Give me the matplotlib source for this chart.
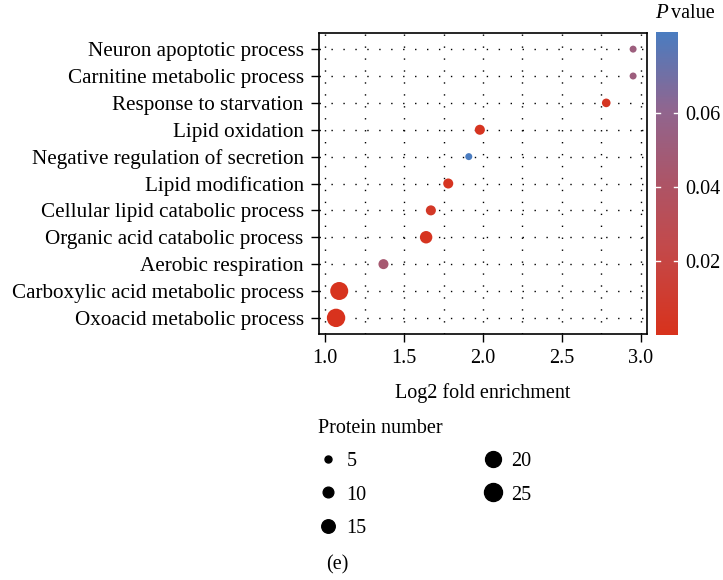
import numpy as np
import matplotlib
matplotlib.use("Agg")
import matplotlib.pyplot as plt
from matplotlib.colors import LinearSegmentedColormap, Normalize
from matplotlib.lines import Line2D

plt.rcParams['font.family'] = ['Liberation Serif', 'DejaVu Serif']

# GO terms, top to bottom
terms = ['Neuron apoptotic process', 'Carnitine metabolic process',
         'Response to starvation', 'Lipid oxidation',
         'Negative regulation of secretion', 'Lipid modification',
         'Cellular lipid catabolic process', 'Organic acid catabolic process',
         'Aerobic respiration', 'Carboxylic acid metabolic process',
         'Oxoacid metabolic process']
enrichment = [2.95, 2.95, 2.78, 1.98, 1.91, 1.78, 1.67, 1.64, 1.37, 1.09, 1.07]
pvalue = [0.052, 0.052, 0.003, 0.002, 0.082, 0.002, 0.006, 0.002, 0.046, 0.001, 0.0005]
count = [5, 5, 7, 9, 5, 9, 9, 13, 9, 25, 26]

legend_counts = [5, 10, 15, 20, 25]

FS = 14.5


def marker_diam(n):
    # diameter in points, area-like scaling
    return (-1.9 + 3.98 * np.sqrt(n)) * 0.72


cmap = LinearSegmentedColormap.from_list(
    'pval', [(0.0, '#D8321C'), (0.3, '#C24A4C'), (0.5, '#AD5466'),
             (0.75, '#8F6690'), (1.0, '#4A7CC0')])
norm = Normalize(vmin=0.0, vmax=0.082)

fig = plt.figure(figsize=(7.23, 5.8), dpi=100)
ax = fig.add_axes([319 / 723, 1 - 334 / 580, (647 - 319) / 723, (334 - 33) / 580])

ypos = np.arange(len(terms))[::-1]
dot = (0, (1, 7.6))
for x in np.arange(1.0, 3.01, 0.25):
    ax.axvline(x, color='black', lw=1.0, ls=dot, zorder=0)
for y in ypos:
    ax.axhline(y, color='black', lw=1.0, ls=dot, zorder=0)

ax.scatter(enrichment, ypos, s=[marker_diam(c) ** 2 for c in count],
           c=pvalue, cmap=cmap, norm=norm, edgecolors='none', zorder=3)

ax.set_xlim(0.962, 3.038)
ax.set_ylim(-0.6, len(terms) - 0.4)
ax.set_yticks(ypos)
ax.set_yticklabels(terms, fontsize=15.2)
ax.set_xticks([1.0, 1.5, 2.0, 2.5, 3.0])
ax.set_xticklabels(['1.0', '1.5', '2.0', '2.5', '3.0'], fontsize=FS)
ax.tick_params(direction='out', length=6, width=1, color='black')
ax.tick_params(axis='y', pad=5)
ax.tick_params(axis='x', pad=5)
for sp in ax.spines.values():
    sp.set_linewidth(1.2)
ax.set_xlabel('Log2 fold enrichment', fontsize=FS, labelpad=11)

# colour bar
cax = fig.add_axes([656 / 723, 1 - 335 / 580, 22 / 723, (335 - 32) / 580])
cb = fig.colorbar(plt.cm.ScalarMappable(norm=norm, cmap=cmap), cax=cax)
cb.outline.set_visible(False)
cb.set_ticks([0.02, 0.04, 0.06])
cb.set_ticklabels(['0.02', '0.04', '0.06'], fontsize=FS)
cax.tick_params(length=0, pad=5)
for t in [0.02, 0.04, 0.06]:
    cax.plot([0, 0.2], [t, t], color='white', lw=1, transform=cax.get_yaxis_transform())
    cax.plot([0.8, 1], [t, t], color='white', lw=1, transform=cax.get_yaxis_transform())
fig.text(655 / 723, 1 - 13 / 580, 'P', fontsize=FS + 0.5, fontstyle='italic',
         va='center', ha='left')
fig.text(671 / 723, 1 - 13 / 580, 'value', fontsize=FS, va='center', ha='left')

# size legend
handles = [Line2D([], [], marker='o', ls='', color='black',
                  markersize=marker_diam(c)) for c in legend_counts]
leg = fig.legend(handles, [str(c) for c in legend_counts], ncol=2,
                 title='Protein number', fontsize=FS, title_fontsize=FS,
                 loc='upper left', bbox_to_anchor=(300 / 723, 1 - 401 / 580),
                 frameon=False, alignment='left', labelspacing=0.7,
                 columnspacing=5.8, handlelength=1.0, handletextpad=0.4,
                 borderpad=0.4)

fig.text(326 / 723, 1 - 565 / 580, '(e)', fontsize=FS, ha='left', va='center')

fig.savefig('out.png', dpi=100)
